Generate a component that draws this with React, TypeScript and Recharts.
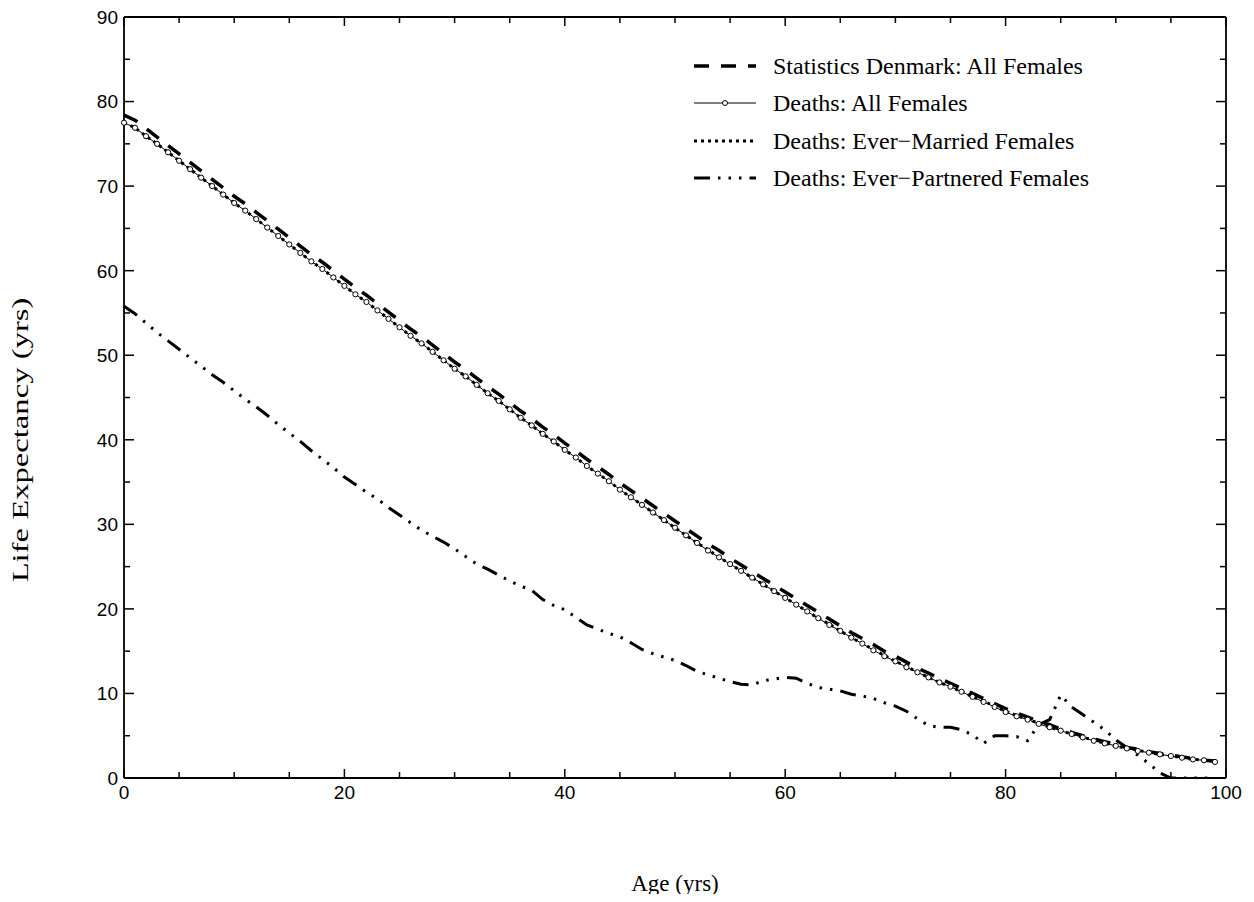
import React from "react";
import { LineChart, Line, XAxis, YAxis, Legend } from "recharts";

const ages: number[] = Array.from({ length: 100 }, (_, i) => i);

const statsDenmark: number[] = [
  78.4, 77.8, 76.8, 75.8, 74.8, 73.8, 72.8, 71.8, 70.8, 69.8,
  68.8, 67.9, 66.9, 65.9, 64.9, 63.9, 62.9, 61.9, 61.0, 60.0,
  59.0, 58.0, 57.1, 56.1, 55.1, 54.1, 53.1, 52.2, 51.2, 50.2,
  49.2, 48.3, 47.3, 46.3, 45.4, 44.4, 43.4, 42.5, 41.5, 40.6,
  39.6, 38.7, 37.7, 36.8, 35.9, 34.9, 34.0, 33.1, 32.2, 31.3,
  30.4, 29.5, 28.6, 27.7, 26.9, 26.0, 25.2, 24.4, 23.6, 22.8,
  22.0, 21.2, 20.4, 19.6, 18.8, 18.0, 17.2, 16.5, 15.8, 15.0,
  14.4, 13.7, 13.0, 12.4, 11.8, 11.2, 10.6, 10.0, 9.4, 8.8,
  8.2, 7.7, 7.2, 6.7, 6.3, 5.8, 5.4, 5.0, 4.6, 4.3,
  4.0, 3.6, 3.4, 3.1, 2.9, 2.7, 2.5, 2.3, 2.1, 2.0,
];

const deathsAll: number[] = [
  77.5, 76.9, 75.9, 75.0, 74.0, 73.0, 72.0, 71.0, 70.0, 69.0,
  68.0, 67.1, 66.1, 65.1, 64.1, 63.1, 62.1, 61.1, 60.2, 59.2,
  58.2, 57.2, 56.3, 55.3, 54.3, 53.3, 52.3, 51.4, 50.4, 49.4,
  48.4, 47.5, 46.5, 45.5, 44.6, 43.6, 42.6, 41.7, 40.7, 39.8,
  38.8, 37.9, 36.9, 36.0, 35.1, 34.1, 33.2, 32.3, 31.4, 30.5,
  29.6, 28.7, 27.8, 26.9, 26.1, 25.3, 24.5, 23.7, 22.9, 22.1,
  21.3, 20.5, 19.7, 18.9, 18.1, 17.4, 16.6, 15.9, 15.1, 14.4,
  13.8, 13.1, 12.5, 11.9, 11.3, 10.8, 10.2, 9.6, 9.0, 8.4,
  7.8, 7.3, 6.9, 6.4, 6.0, 5.6, 5.2, 4.8, 4.4, 4.1,
  3.8, 3.5, 3.2, 3.0, 2.8, 2.6, 2.4, 2.2, 2.1, 1.9,
];

const deathsEverMarried: number[] = [
  77.5, 76.9, 75.9, 75.0, 74.0, 73.0, 72.0, 71.0, 70.0, 69.0,
  68.0, 67.1, 66.1, 65.1, 64.1, 63.1, 62.1, 61.1, 60.2, 59.2,
  58.2, 57.2, 56.3, 55.3, 54.3, 53.3, 52.3, 51.4, 50.4, 49.4,
  48.4, 47.5, 46.5, 45.5, 44.6, 43.6, 42.6, 41.7, 40.7, 39.8,
  38.8, 37.9, 36.9, 36.0, 35.1, 34.1, 33.2, 32.3, 31.4, 30.5,
  29.6, 28.7, 27.8, 27.0, 26.1, 25.3, 24.5, 23.7, 22.9, 22.1,
  21.3, 20.5, 19.7, 18.9, 18.2, 17.4, 16.6, 15.9, 15.2, 14.5,
  13.8, 13.2, 12.5, 11.9, 11.3, 10.8, 10.2, 9.6, 9.1, 8.5,
  7.9, 7.4, 6.9, 6.5, 6.0, 5.6, 5.2, 4.8, 4.5, 4.1,
  3.8, 3.5, 3.3, 3.0, 2.8, 2.6, 2.4, 2.2, 2.1, 2.0,
];

const deathsEverPartnered: number[] = [
  55.8, 54.9, 53.8, 52.7, 51.7, 50.7, 49.7, 48.7, 47.7, 46.8,
  45.8, 44.8, 43.9, 42.9, 41.8, 40.8, 39.8, 38.7, 37.7, 36.7,
  35.6, 34.7, 33.8, 33.0, 32.0, 31.1, 30.2, 29.3, 28.6, 27.9,
  27.1, 26.2, 25.3, 24.7, 24.0, 23.3, 22.7, 22.2, 21.1, 20.4,
  19.9, 19.0, 18.1, 17.6, 17.1, 16.7, 16.0, 15.2, 14.7, 14.3,
  13.9, 13.3, 12.6, 12.2, 11.8, 11.4, 11.1, 11.0, 11.5, 11.7,
  11.9, 11.8, 11.2, 10.7, 10.5, 10.3, 9.9, 9.7, 9.4, 8.9,
  8.5, 7.9, 7.0, 6.2, 6.0, 6.0, 5.7, 5.1, 4.1, 5.0,
  5.0, 4.9, 4.4, 6.3, 6.9, 9.8, 8.4, 7.5, 6.6, 5.7,
  4.5, 3.6, 2.7, 1.7, 0.6, 0.0, 0.0, 0.0, 0.0, 0.0,
];

const xTicks: number[] = [0, 5, 10, 15, 20, 25, 30, 35, 40, 45, 50, 55, 60, 65, 70, 75, 80, 85, 90, 95, 100];
const xLabelTicks: number[] = [0, 20, 40, 60, 80, 100];
const yTicks: number[] = [0, 5, 10, 15, 20, 25, 30, 35, 40, 45, 50, 55, 60, 65, 70, 75, 80, 85, 90];
const yLabelTicks: number[] = [0, 10, 20, 30, 40, 50, 60, 70, 80, 90];

const seriesNames = {
  sd: "Statistics Denmark: All Females",
  all: "Deaths: All Females",
  married: "Deaths: Ever\u2212Married Females",
  partnered: "Deaths: Ever\u2212Partnered Females",
};

const data = ages.map((age, i) => ({
  age,
  sd: statsDenmark[i],
  all: deathsAll[i],
  married: deathsEverMarried[i],
  partnered: deathsEverPartnered[i],
}));

const W = 1246;
const H = 886;
const TICK_FONT = "'Liberation Sans', Arial, Helvetica, sans-serif";
const SERIF = "'Liberation Serif', 'Times New Roman', Times, serif";

const SD_DASH = "15 12";
const MARRIED_DASH = "3 4";
const PART_DASH = "16 8 2.5 8 2.5 8 2.5 8";

const BottomTick = (props: any) => {
  const { x, y, payload } = props;
  const major = xLabelTicks.includes(payload.value);
  return (
    <g>
      <line x1={x} y1={y} x2={x} y2={y - (major ? 9 : 6)} stroke="#000" strokeWidth={1.5} />
      {major && (
        <text x={x} y={y + 7} dy="0.72em" textAnchor="middle" fontSize={19} fontFamily={TICK_FONT} fill="#000">
          {payload.value}
        </text>
      )}
    </g>
  );
};

const TopTick = (props: any) => {
  const { x, y, payload } = props;
  const major = xLabelTicks.includes(payload.value);
  return <line x1={x} y1={y} x2={x} y2={y + (major ? 9 : 6)} stroke="#000" strokeWidth={1.5} />;
};

const LeftTick = (props: any) => {
  const { x, y, payload } = props;
  const major = yLabelTicks.includes(payload.value);
  return (
    <g>
      <line x1={x} y1={y} x2={x + (major ? 10 : 6)} y2={y} stroke="#000" strokeWidth={1.5} />
      {major && (
        <text x={x - 6} y={y} dy="0.36em" textAnchor="end" fontSize={19} fontFamily={TICK_FONT} fill="#000">
          {payload.value}
        </text>
      )}
    </g>
  );
};

const RightTick = (props: any) => {
  const { x, y, payload } = props;
  const major = yLabelTicks.includes(payload.value);
  return <line x1={x} y1={y} x2={x - (major ? 10 : 6)} y2={y} stroke="#000" strokeWidth={1.5} />;
};

const LegendContent = () => {
  const rows = [
    { name: seriesNames.sd, dash: SD_DASH, w: 3.5, dot: false },
    { name: seriesNames.all, dash: undefined, w: 1, dot: true },
    { name: seriesNames.married, dash: MARRIED_DASH, w: 3, dot: false },
    { name: seriesNames.partnered, dash: PART_DASH, w: 3, dot: false },
  ];
  return (
    <div style={{ fontFamily: SERIF, fontSize: 24, color: "#000" }}>
      {rows.map((r) => (
        <div key={r.name} style={{ display: "flex", alignItems: "center", height: 37.5 }}>
          <svg width={70} height={20} style={{ display: "block" }}>
            <line x1={2} y1={10} x2={64} y2={10} stroke="#000" strokeWidth={r.w} strokeDasharray={r.dash} />
            {r.dot && <circle cx={33} cy={10} r={2.5} fill="#fff" stroke="#000" strokeWidth={1} />}
          </svg>
          <span style={{ marginLeft: 11, whiteSpace: "nowrap", lineHeight: 1 }}>{r.name}</span>
        </div>
      ))}
    </div>
  );
};

export default function App() {
  return (
    <div style={{ position: "relative", width: W, height: H }}>
      <LineChart width={W} height={H} data={data} margin={{ top: 8, right: 27, left: 0, bottom: 0 }}>
        <XAxis
          dataKey="age"
          type="number"
          domain={[0, 100]}
          ticks={xTicks}
          interval={0}
          tickSize={0}
          tickMargin={0}
          tick={BottomTick}
          tickLine={false}
          axisLine={{ stroke: "#000", strokeWidth: 1.8 }}
          height={116}
        />
        <XAxis
          xAxisId="top"
          orientation="top"
          dataKey="age"
          type="number"
          domain={[0, 100]}
          ticks={xTicks}
          interval={0}
          tickSize={0}
          tickMargin={0}
          tick={TopTick}
          tickLine={false}
          axisLine={{ stroke: "#000", strokeWidth: 1.8 }}
          height={1}
        />
        <YAxis
          type="number"
          domain={[0, 90]}
          ticks={yTicks}
          interval={0}
          tickSize={0}
          tickMargin={0}
          tick={LeftTick}
          tickLine={false}
          axisLine={{ stroke: "#000", strokeWidth: 1.8 }}
          width={116}
          allowDataOverflow
        />
        <YAxis
          yAxisId="right"
          orientation="right"
          type="number"
          domain={[0, 90]}
          ticks={yTicks}
          interval={0}
          tickSize={0}
          tickMargin={0}
          tick={RightTick}
          tickLine={false}
          axisLine={{ stroke: "#000", strokeWidth: 1.8 }}
          width={1}
        />
        <Legend
          content={LegendContent}
          layout="horizontal"
          verticalAlign="middle"
          align="center"
          wrapperStyle={{ position: "absolute", left: 684, top: 39, width: 480 }}
        />
        <Line
          xAxisId="top"
          yAxisId="right"
          type="linear"
          dataKey="sd"
          stroke="none"
          strokeWidth={0}
          dot={false}
          activeDot={false}
          legendType="none"
          isAnimationActive={false}
        />
        <Line
          type="linear"
          dataKey="sd"
          name={seriesNames.sd}
          stroke="#000"
          strokeWidth={3.5}
          strokeDasharray={SD_DASH}
          dot={false}
          isAnimationActive={false}
        />
        <Line
          type="linear"
          dataKey="all"
          name={seriesNames.all}
          stroke="#000"
          strokeWidth={1}
          dot={{ r: 2.6, fill: "#fff", stroke: "#000", strokeWidth: 1 }}
          isAnimationActive={false}
        />
        <Line
          type="linear"
          dataKey="married"
          name={seriesNames.married}
          stroke="#000"
          strokeWidth={3}
          strokeDasharray={MARRIED_DASH}
          dot={false}
          isAnimationActive={false}
        />
        <Line
          type="linear"
          dataKey="partnered"
          name={seriesNames.partnered}
          stroke="#000"
          strokeWidth={3}
          strokeDasharray={PART_DASH}
          dot={false}
          isAnimationActive={false}
        />
      </LineChart>
      <div
        style={{
          position: "absolute",
          left: 0,
          right: 0,
          top: 863,
          textAlign: "center",
          paddingLeft: 116 - 28,
          fontFamily: SERIF,
          fontSize: 23,
          color: "#000",
          whiteSpace: "nowrap",
        }}
      >
        Age (yrs)
      </div>
      <div
        style={{
          position: "absolute",
          left: 13,
          top: 432,
          width: 0,
          height: 0,
        }}
      >
        <div
          style={{
            position: "absolute",
            left: 0,
            top: 0,
            transform: "translate(-50%, -50%) rotate(-90deg) scaleX(1.42)",
            fontFamily: SERIF,
            fontSize: 23,
            color: "#000",
            whiteSpace: "nowrap",
          }}
        >
          Life Expectancy (yrs)
        </div>
      </div>
    </div>
  );
}
